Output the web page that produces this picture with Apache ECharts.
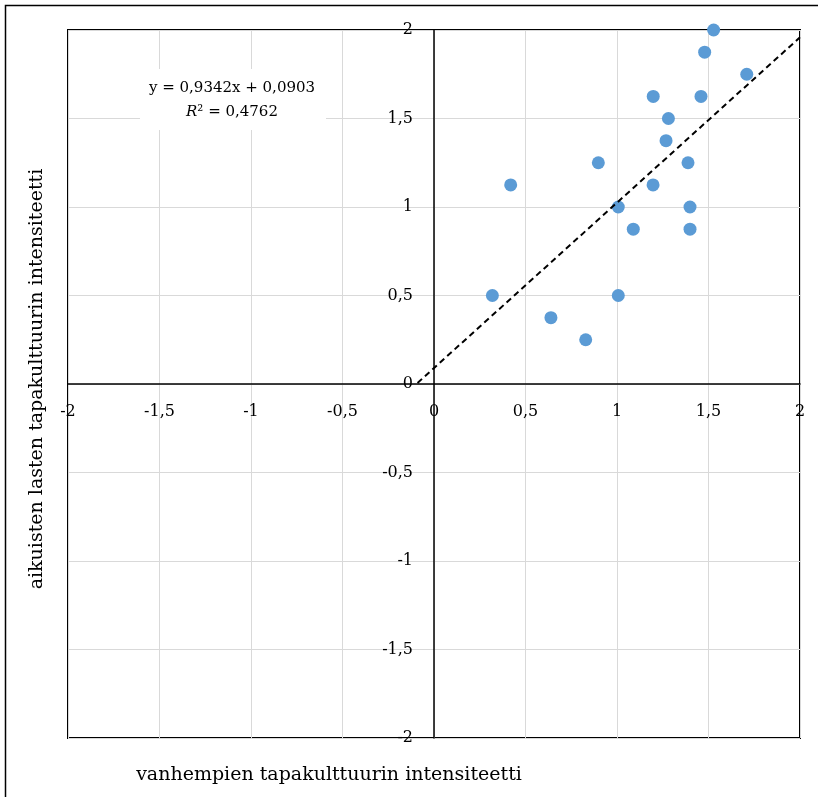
<!DOCTYPE html>
<html>
<head>
<meta charset="utf-8">
<script src="https://cdn.jsdelivr.net/npm/echarts@6/dist/echarts.min.js"></script>
<style>
html, body { margin: 0; padding: 0; background: #fff; }
#chart { width: 818px; height: 797px; }
</style>
</head>
<body>
<div id="chart"></div>
<script>
// vanhempien (x) vs aikuisten lasten (y) tapakulttuurin intensiteetti
var parentValues = [1.528, 1.479, 1.709, 1.198, 1.459, 1.281, 1.268, 0.898, 1.388, 0.419,
                    1.197, 1.007, 1.399, 1.089, 1.399, 0.319, 1.007, 0.639, 0.829];
var childValues  = [2.0, 1.875, 1.75, 1.625, 1.625, 1.5, 1.375, 1.25, 1.25, 1.125,
                    1.125, 1.0, 1.0, 0.875, 0.875, 0.5, 0.5, 0.375, 0.25];
var trendSlope = 0.9342;
var trendIntercept = 0.0903;
var trendRange = [-0.09, 2];
var equationText = 'y = 0,9342x + 0,0903';
var r2Text = '0,4762';
var xTitle = 'vanhempien tapakulttuurin intensiteetti';
var yTitle = 'aikuisten lasten tapakulttuurin intensiteetti';

var font = '"DejaVu Serif", "Liberation Serif", serif';

var points = parentValues.map(function (x, i) { return [x, childValues[i]]; });
var trend = trendRange.map(function (x) { return [x, trendSlope * x + trendIntercept]; });

function fmt(v) {
    return String(v).replace('.', ',');
}

// grid box, the axes cross in the middle of it
var gridL = 68, gridT = 30, gridR = 18, gridB = 59;
var plotW = 818 - gridL - gridR, plotH = 797 - gridT - gridB;

var chart = echarts.init(document.getElementById('chart'));
chart.setOption({
    animation: false,
    backgroundColor: '#fff',
    grid: {
        left: gridL, top: gridT, right: gridR, bottom: gridB,
        show: true, borderColor: '#000', borderWidth: 2, backgroundColor: 'transparent'
    },
    xAxis: {
        type: 'value', min: -2, max: 2, interval: 0.5,
        position: 'bottom', offset: -plotH / 2,
        axisLine: { onZero: false, lineStyle: { color: '#000', width: 1.5 } },
        axisTick: { show: false },
        splitLine: { lineStyle: { color: '#d9d9d9', width: 1 } },
        axisLabel: { margin: 20, color: '#000', fontFamily: font, fontSize: 16, formatter: fmt,
                     showMinLabel: true, showMaxLabel: true }
    },
    yAxis: {
        type: 'value', min: -2, max: 2, interval: 0.5,
        position: 'left', offset: -plotW / 2,
        axisLine: { onZero: false, lineStyle: { color: '#000', width: 1.5 } },
        axisTick: { show: false },
        splitLine: { lineStyle: { color: '#d9d9d9', width: 1 } },
        axisLabel: { margin: 21, color: '#000', fontFamily: font, fontSize: 16, formatter: fmt,
                     showMinLabel: true, showMaxLabel: true }
    },
    series: [
        {
            type: 'scatter',
            data: points,
            symbolSize: 13,
            itemStyle: { color: '#5b9bd5', opacity: 1 },
            z: 3
        },
        {
            type: 'line',
            data: trend,
            showSymbol: false,
            symbol: 'none',
            lineStyle: { color: '#000', width: 2, type: [6, 4] },
            z: 4
        }
    ],
    graphic: [
        {
            type: 'rect', z: 0,
            shape: { x: 5.5, y: 5.5, width: 900, height: 900 },
            style: { fill: 'none', stroke: '#000', lineWidth: 1.5 }
        },
        {
            type: 'rect', z: 10,
            shape: { x: 140, y: 69, width: 186, height: 61 },
            style: { fill: '#fff' }
        },
        {
            type: 'text', z: 11, x: 232, y: 88,
            style: { text: equationText, font: '15px ' + font, fill: '#000', align: 'center', verticalAlign: 'middle' }
        },
        {
            type: 'text', z: 11, x: 232, y: 112,
            style: {
                text: '{i|R}² = ' + r2Text,
                font: '15px ' + font, fill: '#000', align: 'center', verticalAlign: 'middle',
                rich: { i: { fontStyle: 'italic', fontFamily: font, fontSize: 15 } }
            }
        },
        {
            type: 'text', z: 11, x: 329, y: 775,
            style: { text: xTitle, font: '19px ' + font, fill: '#000', align: 'center', verticalAlign: 'middle' }
        },
        {
            type: 'text', z: 11, x: 37, y: 379, rotation: Math.PI / 2,
            style: { text: yTitle, font: '19px ' + font, fill: '#000', align: 'center', verticalAlign: 'middle' }
        }
    ]
});
</script>
</body>
</html>
